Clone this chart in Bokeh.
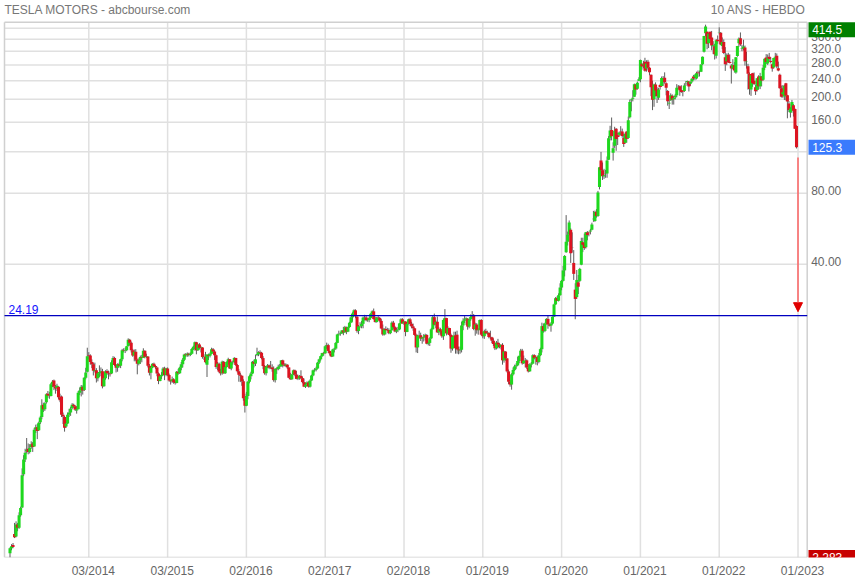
from bokeh.plotting import figure
from bokeh.models import Range1d, FixedTicker, Arrow, NormalHead, ColumnDataSource
from bokeh.core.properties import value
from bokeh.embed import file_html
from bokeh.resources import INLINE

# ---- weekly OHLC (split-adjusted), one bar per week, Mar 2013 -> Dec 2022 ----
opn = [
    2.38, 2.50, 2.58, 2.87, 2.80, 3.15, 3.05, 3.45, 3.72, 5.15,
    5.95, 6.45, 6.60, 6.40, 6.70, 6.95, 6.75, 8.00, 8.15, 7.90,
    8.55, 9.00, 10.15, 9.70, 10.40, 11.30, 11.10, 11.05, 12.40, 12.85,
    12.05, 11.95, 12.10, 10.90, 11.00, 9.20, 9.00, 8.20, 8.45, 9.20,
    9.40, 9.80, 10.15, 10.00, 9.60, 9.70, 11.40, 11.65, 12.05, 11.70,
    13.20, 14.00, 16.50, 16.40, 15.40, 15.05, 14.10, 14.20, 13.15, 13.80,
    13.95, 14.05, 12.15, 13.15, 14.10, 13.80, 13.75, 13.75, 15.35, 16.00,
    14.95, 14.55, 15.05, 14.85, 15.80, 17.25, 17.20, 17.25, 18.00, 19.15,
    18.60, 17.25, 16.40, 17.00, 15.75, 15.15, 15.65, 16.15, 16.05, 17.20,
    16.15, 16.25, 14.85, 13.85, 14.60, 15.15, 14.80, 14.60, 13.75, 12.80,
    13.40, 13.55, 14.45, 13.55, 14.45, 13.55, 12.85, 12.75, 13.00, 12.65,
    12.55, 14.00, 13.80, 14.55, 15.05, 15.75, 16.55, 16.45, 16.70, 16.50,
    16.70, 17.50, 17.85, 18.65, 17.25, 18.25, 17.65, 17.75, 16.15, 16.20,
    15.00, 16.50, 16.35, 16.70, 17.45, 17.05, 16.45, 14.65, 15.15, 14.00,
    13.80, 15.45, 13.80, 14.65, 15.40, 15.80, 14.45, 15.35, 15.40, 16.00,
    14.95, 14.07, 13.60, 13.45, 12.75, 10.80, 10.05, 11.05, 12.70, 13.40,
    13.75, 15.45, 15.15, 16.50, 16.65, 16.95, 16.85, 16.00, 14.80, 13.80,
    14.70, 14.90, 14.55, 14.60, 14.35, 12.90, 14.40, 14.35, 14.70, 14.80,
    15.65, 15.00, 14.85, 15.00, 14.60, 13.20, 13.00, 13.65, 14.20, 13.60,
    13.05, 13.10, 13.45, 13.15, 12.65, 12.10, 12.35, 12.60, 12.10, 12.85,
    13.50, 14.20, 14.25, 14.45, 15.30, 15.80, 16.30, 16.80, 16.75, 17.95,
    18.15, 17.15, 16.75, 16.25, 17.40, 17.55, 18.55, 20.15, 20.25, 20.35,
    20.95, 20.55, 21.60, 20.70, 21.65, 22.60, 23.80, 24.70, 25.50, 23.95,
    20.85, 21.80, 21.85, 22.35, 23.75, 23.80, 23.15, 23.20, 23.65, 24.65,
    25.25, 23.40, 22.75, 23.75, 23.65, 23.00, 21.35, 20.15, 21.25, 21.00,
    21.05, 20.40, 21.00, 22.60, 21.65, 20.75, 21.00, 21.15, 22.45, 23.35,
    22.45, 22.85, 20.65, 22.35, 23.35, 22.35, 21.80, 21.40, 20.05, 17.75,
    19.95, 20.00, 19.35, 19.60, 19.55, 20.05, 18.40, 18.55, 19.40, 21.20,
    23.85, 22.20, 22.80, 20.55, 21.20, 20.85, 19.80, 23.20, 23.65, 20.35,
    21.45, 20.05, 17.55, 19.65, 19.95, 20.10, 17.40, 17.25, 17.35, 22.00,
    23.05, 23.35, 23.50, 21.75, 23.35, 23.90, 24.35, 21.25, 22.20, 21.00,
    21.15, 23.20, 20.10, 19.80, 20.80, 20.35, 20.45, 19.65, 19.60, 18.95,
    18.35, 17.60, 18.60, 18.25, 17.80, 18.20, 15.65, 17.05, 15.95, 14.05,
    12.70, 12.35, 13.65, 14.25, 14.75, 14.90, 15.55, 16.35, 17.20, 15.20,
    15.60, 15.65, 14.60, 14.05, 15.00, 15.15, 16.45, 16.00, 16.15, 15.40,
    16.45, 17.45, 21.85, 20.85, 22.45, 23.45, 22.20, 21.95, 22.40, 23.95,
    27.00, 28.70, 28.00, 29.55, 31.85, 34.00, 37.65, 45.00, 49.85, 53.35,
    56.00, 47.00, 40.50, 31.20, 29.00, 33.50, 34.00, 39.80, 49.50, 49.00,
    47.20, 54.50, 54.50, 55.10, 56.00, 62.00, 61.00, 66.70, 64.00, 85.00,
    110.0, 100.0, 94.50, 96.50, 97.00, 111.0, 137.5, 148.2, 118.7, 127.0,
    150.0, 141.0, 141.5, 147.0, 146.0, 137.0, 131.0, 146.0, 137.0, 168.0,
    198.0, 201.0, 205.0, 231.0, 222.0, 239.8, 243.3, 283.0, 279.0, 289.0,
    270.0, 289.0, 272.0, 254.0, 230.0, 200.0, 231.0, 220.0, 203.0, 230.0,
    228.0, 240.0, 247.0, 234.0, 217.0, 192.0, 198.0, 207.0, 200.0, 204.0,
    208.0, 225.0, 227.0, 219.0, 216.0, 217.0, 233.0, 237.0, 238.0, 233.0,
    238.0, 250.0, 248.0, 245.0, 260.0, 262.0, 262.0, 282.0, 318.0, 381.0,
    387.0, 346.0, 387.0, 366.0, 336.0, 336.0, 306.0, 358.0, 382.0, 383.0,
    337.0, 350.0, 302.0, 290.0, 309.0, 288.0, 278.0, 270.0, 280.0, 260.0,
    305.0, 346.0, 363.0, 327.0, 328.0, 332.0, 288.0, 276.0, 256.0, 220.0,
    258.0, 240.0, 225.0, 219.0, 250.0, 227.0, 250.0, 242.0, 272.0, 301.0,
    284.0, 303.0, 291.0, 282.0, 273.0, 300.0, 306.0, 271.0, 254.0, 223.0,
    210.0, 205.8, 234.0, 208.0, 192.0, 176.0, 180.0, 189.0, 182.0, 154.0,
]
high = [
    2.52, 2.60, 2.63, 3.20, 3.25, 3.20, 3.55, 3.75, 5.45, 6.20,
    6.60, 7.33, 6.95, 6.90, 7.10, 7.05, 8.10, 8.35, 8.40, 8.60,
    9.10, 10.70, 10.35, 10.40, 11.35, 11.60, 11.50, 12.55, 12.90, 12.97,
    12.30, 12.45, 12.15, 11.30, 11.10, 9.40, 9.10, 8.80, 9.40, 9.75,
    9.95, 10.30, 10.25, 10.10, 10.00, 11.60, 12.00, 12.30, 12.25, 13.30,
    14.55, 17.70, 16.95, 16.60, 15.80, 15.30, 15.30, 14.50, 13.95, 14.90,
    14.60, 14.40, 13.40, 14.20, 14.35, 14.15, 14.05, 15.65, 16.30, 16.20,
    15.05, 15.20, 15.30, 15.90, 17.50, 17.60, 17.70, 18.00, 19.40, 19.30,
    18.80, 17.50, 17.40, 17.45, 15.90, 15.95, 16.40, 16.50, 17.60, 17.25,
    16.70, 16.30, 15.10, 14.80, 15.20, 15.30, 14.95, 14.70, 13.90, 13.60,
    13.95, 14.65, 14.70, 14.55, 14.60, 13.75, 12.95, 13.35, 13.15, 12.85,
    14.10, 14.40, 14.70, 15.40, 16.00, 16.70, 16.80, 16.90, 16.85, 16.90,
    17.65, 18.05, 18.80, 18.75, 18.40, 18.50, 17.95, 17.80, 16.60, 17.00,
    16.60, 16.70, 16.90, 17.70, 17.65, 17.30, 16.55, 15.40, 15.30, 14.40,
    15.60, 15.55, 14.80, 15.50, 16.05, 15.85, 15.50, 15.60, 16.15, 16.05,
    15.10, 14.40, 13.85, 13.50, 13.00, 11.30, 11.50, 12.80, 13.55, 14.00,
    15.55, 15.75, 16.50, 17.70, 17.10, 17.25, 17.00, 16.30, 14.95, 14.80,
    15.10, 15.00, 15.55, 15.05, 14.75, 14.50, 14.60, 15.00, 15.10, 15.70,
    15.75, 15.20, 15.20, 15.05, 14.65, 13.85, 13.70, 14.30, 14.30, 14.10,
    13.60, 13.55, 14.20, 13.35, 13.10, 12.60, 12.75, 12.75, 13.00, 13.60,
    14.30, 14.50, 14.70, 15.40, 15.90, 16.40, 16.85, 17.00, 18.10, 18.60,
    18.40, 17.20, 16.90, 17.50, 17.70, 18.70, 20.30, 20.90, 20.60, 21.00,
    21.70, 21.90, 21.75, 21.75, 22.80, 24.00, 25.00, 25.75, 25.75, 24.20,
    22.10, 22.70, 23.00, 24.00, 24.40, 24.35, 23.60, 23.90, 24.80, 25.50,
    25.95, 23.90, 23.90, 24.10, 23.90, 23.40, 22.20, 21.40, 21.80, 21.50,
    21.40, 21.10, 22.90, 23.00, 21.90, 21.50, 21.70, 22.50, 23.60, 23.60,
    23.00, 22.90, 22.50, 23.50, 23.70, 22.80, 22.40, 21.50, 20.30, 20.10,
    20.90, 20.50, 19.70, 20.20, 20.30, 20.20, 18.80, 19.60, 21.50, 24.20,
    24.70, 23.10, 24.00, 21.60, 21.50, 20.90, 23.50, 25.80, 23.70, 21.80,
    21.50, 20.30, 19.90, 20.70, 20.70, 20.90, 17.90, 17.90, 22.80, 23.60,
    24.10, 23.80, 23.60, 23.50, 24.50, 25.30, 24.60, 22.60, 22.50, 21.40,
    23.30, 23.40, 20.70, 21.10, 21.30, 20.90, 20.60, 20.90, 19.70, 19.40,
    18.60, 18.90, 19.30, 18.50, 18.30, 18.50, 17.20, 17.10, 16.00, 14.30,
    12.90, 13.80, 14.60, 15.00, 15.20, 16.20, 16.40, 17.50, 17.50, 16.40,
    16.00, 15.80, 15.10, 15.20, 15.40, 16.60, 16.60, 16.40, 16.30, 16.80,
    17.70, 22.60, 22.40, 22.60, 23.60, 24.20, 22.40, 22.70, 24.00, 27.20,
    29.00, 29.20, 30.10, 33.20, 34.30, 39.40, 43.70, 64.60, 55.00, 61.30,
    56.80, 54.60, 45.90, 33.20, 37.80, 36.00, 38.60, 51.80, 51.80, 53.90,
    54.80, 55.30, 55.00, 56.50, 60.00, 67.30, 67.50, 68.50, 81.80, 103.4,
    119.67, 108.0, 101.5, 100.5, 114.5, 139.7, 154.5, 167.5, 131.5, 153.0,
    151.0, 144.4, 146.0, 153.9, 150.3, 143.0, 145.0, 146.5, 169.0, 199.6,
    201.0, 218.7, 233.3, 232.5, 238.0, 248.0, 294.8, 285.0, 291.5, 300.1,
    293.0, 294.0, 274.0, 255.0, 240.0, 233.0, 236.0, 225.0, 224.0, 233.0,
    250.0, 251.0, 260.3, 236.0, 219.0, 200.0, 212.0, 210.0, 206.0, 211.0,
    232.0, 230.0, 229.0, 229.5, 218.0, 234.0, 239.0, 240.0, 239.0, 238.0,
    246.0, 254.0, 256.0, 262.0, 265.0, 265.0, 282.0, 304.0, 371.7, 414.5,
    388.0, 383.0, 387.5, 390.0, 353.0, 344.0, 360.0, 373.0, 404.0, 386.0,
    366.0, 359.0, 333.0, 313.0, 315.0, 310.0, 282.0, 296.0, 288.0, 302.0,
    337.0, 366.0, 384.3, 340.0, 358.0, 338.0, 318.0, 283.0, 260.0, 255.0,
    259.0, 260.0, 231.0, 246.0, 253.0, 259.0, 251.0, 280.0, 298.0, 311.0,
    310.0, 314.7, 302.0, 284.0, 300.0, 314.9, 313.0, 289.0, 257.0, 229.0,
    229.8, 230.6, 234.9, 209.0, 196.7, 185.0, 198.9, 191.0, 182.9, 155.3,
]
low = [
    2.283, 2.45, 2.50, 2.76, 2.78, 2.95, 3.02, 3.40, 3.70, 5.05,
    5.80, 6.30, 6.25, 6.30, 6.60, 6.40, 6.75, 7.70, 7.25, 7.85,
    8.40, 8.80, 9.45, 9.55, 10.25, 10.85, 10.75, 11.00, 12.05, 11.70,
    11.30, 11.60, 10.70, 10.40, 9.00, 8.40, 7.80, 8.10, 8.40, 9.00,
    9.10, 9.70, 9.85, 9.55, 9.30, 9.70, 11.15, 11.00, 11.20, 11.60,
    13.00, 13.90, 15.80, 15.00, 14.50, 13.50, 13.90, 12.60, 12.75, 13.30,
    13.40, 11.90, 12.10, 12.95, 13.55, 13.00, 13.35, 13.70, 15.00, 14.80,
    13.90, 14.00, 14.60, 14.50, 15.50, 16.90, 16.80, 17.10, 17.90, 18.15,
    16.90, 16.20, 15.50, 15.50, 13.65, 14.90, 15.10, 15.35, 16.00, 15.95,
    16.00, 14.60, 13.50, 13.00, 14.50, 14.70, 14.40, 13.40, 12.40, 12.75,
    13.05, 13.45, 12.90, 13.40, 13.40, 12.70, 12.35, 12.55, 12.45, 12.35,
    12.50, 13.60, 13.70, 14.20, 14.60, 15.55, 16.15, 16.20, 16.25, 16.30,
    16.60, 17.30, 17.20, 16.60, 17.15, 17.40, 16.90, 15.90, 15.70, 15.20,
    13.30, 15.70, 16.10, 16.60, 16.70, 15.70, 14.40, 14.20, 13.80, 13.50,
    13.60, 13.75, 13.70, 14.55, 15.00, 14.40, 14.20, 15.00, 15.20, 14.80,
    13.90, 12.70, 12.65, 12.20, 10.55, 9.40, 10.00, 10.70, 12.50, 13.00,
    13.70, 14.60, 14.80, 16.30, 16.30, 16.45, 15.80, 14.35, 13.60, 13.50,
    14.50, 14.35, 14.40, 14.00, 12.70, 12.60, 13.70, 14.20, 14.40, 14.70,
    14.60, 14.75, 14.70, 14.40, 13.15, 12.95, 12.95, 13.55, 13.40, 13.00,
    12.90, 12.95, 13.00, 12.50, 12.05, 11.95, 12.30, 12.00, 12.00, 12.80,
    13.40, 14.00, 14.05, 14.40, 15.10, 15.60, 16.20, 16.40, 16.70, 17.50,
    16.80, 16.40, 16.15, 16.20, 16.90, 17.35, 18.50, 19.90, 19.90, 20.25,
    20.00, 20.50, 20.20, 20.60, 21.50, 22.50, 22.80, 24.50, 23.60, 20.50,
    20.20, 21.50, 21.40, 21.40, 23.10, 22.90, 22.80, 22.70, 23.30, 24.50,
    23.30, 22.60, 22.60, 23.20, 22.65, 21.20, 19.90, 19.95, 20.15, 20.80,
    20.20, 20.20, 20.90, 21.30, 20.60, 20.40, 20.60, 21.00, 22.30, 22.40,
    22.10, 19.80, 20.60, 22.20, 21.90, 21.40, 20.90, 19.90, 16.90, 16.80,
    19.60, 18.90, 18.40, 18.80, 19.00, 18.30, 18.10, 18.00, 19.30, 21.10,
    22.00, 21.40, 20.50, 20.00, 20.10, 19.50, 19.10, 22.80, 19.95, 20.10,
    19.80, 16.85, 17.20, 19.00, 16.70, 16.70, 16.60, 16.70, 16.90, 21.00,
    22.50, 22.10, 21.10, 21.40, 23.00, 23.50, 21.00, 19.90, 20.30, 20.10,
    21.00, 19.90, 19.40, 19.30, 20.20, 20.10, 19.40, 19.20, 18.50, 18.00,
    17.30, 17.40, 17.60, 17.60, 17.40, 15.00, 15.30, 15.60, 13.90, 12.40,
    12.10, 11.75, 13.50, 14.10, 14.40, 14.80, 15.20, 16.20, 15.00, 15.10,
    14.60, 14.40, 13.90, 14.00, 14.60, 15.10, 15.80, 15.00, 14.90, 15.20,
    16.30, 16.90, 20.50, 20.60, 22.20, 21.30, 21.80, 20.70, 22.20, 23.90,
    26.90, 27.90, 27.80, 29.40, 31.00, 33.80, 35.50, 44.70, 48.00, 53.00,
    40.50, 44.80, 34.30, 23.37, 28.50, 29.90, 33.60, 39.60, 45.00, 46.00,
    46.60, 50.50, 52.50, 53.50, 55.70, 60.50, 60.50, 63.00, 63.50, 83.00,
    95.00, 91.00, 92.00, 93.00, 93.00, 110.5, 134.0, 134.0, 110.0, 124.5,
    121.0, 128.0, 139.0, 140.5, 137.5, 125.7, 130.0, 131.0, 136.0, 166.0,
    178.0, 196.0, 205.0, 209.3, 220.0, 239.0, 236.3, 267.0, 271.0, 262.0,
    262.0, 265.0, 253.0, 206.3, 180.0, 186.0, 206.0, 193.0, 199.0, 220.0,
    226.0, 228.0, 233.0, 208.0, 188.0, 182.0, 197.0, 190.0, 190.0, 200.0,
    204.0, 221.0, 207.0, 213.0, 206.0, 215.0, 228.0, 229.0, 216.0, 228.0,
    235.0, 241.0, 241.0, 243.0, 249.0, 250.0, 261.0, 280.0, 316.0, 370.0,
    326.0, 330.0, 348.0, 323.0, 311.0, 295.0, 298.0, 344.0, 377.0, 340.0,
    326.0, 311.0, 264.0, 279.0, 286.0, 284.0, 233.3, 268.0, 260.0, 257.0,
    303.0, 334.0, 337.0, 320.0, 322.0, 278.0, 270.0, 220.0, 209.3, 206.9,
    226.0, 230.0, 208.7, 216.0, 220.0, 221.0, 227.0, 240.0, 266.0, 282.0,
    280.0, 290.0, 284.0, 262.0, 270.0, 289.0, 271.0, 263.0, 222.0, 203.5,
    203.0, 198.6, 198.0, 166.2, 176.6, 167.5, 175.5, 169.0, 149.9, 123.8,
]
close = [
    2.50, 2.55, 2.53, 2.78, 3.15, 3.05, 3.45, 3.70, 5.10, 5.95,
    6.35, 6.52, 6.40, 6.65, 6.90, 6.72, 7.95, 8.15, 7.85, 8.50,
    8.95, 10.10, 9.70, 10.30, 11.25, 11.10, 11.05, 12.40, 12.70, 12.10,
    11.90, 12.20, 10.90, 10.60, 9.20, 9.05, 8.10, 8.45, 9.20, 9.40,
    9.75, 10.15, 10.00, 9.65, 9.70, 11.40, 11.65, 12.10, 11.65, 13.20,
    13.90, 16.30, 16.40, 15.40, 15.05, 14.15, 14.20, 13.15, 13.80, 13.95,
    14.05, 12.15, 13.15, 14.05, 13.80, 13.75, 13.65, 15.35, 16.00, 14.95,
    14.55, 15.05, 14.85, 15.80, 17.25, 17.20, 17.25, 17.95, 19.15, 18.60,
    17.25, 16.40, 17.00, 15.75, 15.15, 15.65, 16.15, 16.05, 17.20, 16.15,
    16.25, 14.85, 13.85, 14.60, 15.15, 14.80, 14.63, 13.75, 12.80, 13.40,
    13.55, 14.45, 13.55, 14.45, 13.55, 12.85, 12.75, 13.00, 12.65, 12.55,
    14.00, 13.80, 14.55, 15.05, 15.75, 16.55, 16.45, 16.70, 16.50, 16.70,
    17.50, 17.85, 18.65, 17.25, 18.25, 17.65, 17.75, 16.15, 16.20, 15.35,
    16.55, 16.35, 16.70, 17.45, 17.05, 16.45, 14.65, 15.15, 14.00, 13.80,
    15.45, 13.80, 14.65, 15.40, 15.80, 14.45, 15.35, 15.40, 16.00, 14.95,
    14.07, 13.60, 13.45, 12.75, 10.80, 10.05, 11.05, 12.70, 13.40, 13.75,
    15.45, 15.15, 15.80, 16.65, 16.95, 16.85, 16.00, 14.80, 13.80, 14.70,
    14.90, 14.55, 14.60, 14.35, 12.90, 14.40, 14.35, 14.70, 14.80, 15.65,
    15.00, 14.85, 15.00, 14.60, 13.20, 13.00, 13.65, 14.20, 13.60, 13.05,
    13.10, 13.45, 13.15, 12.65, 12.10, 12.35, 12.60, 12.10, 12.85, 13.50,
    14.20, 14.25, 14.45, 15.30, 15.80, 16.30, 16.80, 16.75, 17.95, 18.15,
    17.15, 16.75, 16.25, 17.40, 17.55, 18.55, 20.15, 20.25, 20.35, 20.95,
    20.55, 21.60, 20.70, 21.65, 22.60, 23.80, 24.70, 25.50, 24.05, 20.85,
    21.80, 21.85, 22.35, 23.75, 23.80, 23.15, 23.20, 23.65, 24.65, 25.25,
    23.40, 22.75, 23.75, 23.65, 23.00, 21.35, 20.15, 21.25, 21.00, 21.05,
    20.40, 21.00, 22.60, 21.65, 20.75, 21.00, 21.15, 22.45, 23.35, 22.45,
    22.85, 20.65, 22.35, 23.35, 22.35, 21.80, 21.40, 20.05, 17.75, 19.95,
    20.00, 19.35, 19.60, 19.55, 20.05, 18.40, 18.55, 19.40, 21.20, 23.85,
    22.20, 22.80, 20.55, 21.20, 20.85, 19.80, 23.20, 23.65, 20.35, 21.45,
    20.05, 17.55, 19.65, 19.95, 17.60, 17.40, 17.25, 17.35, 22.00, 23.05,
    23.35, 23.60, 21.75, 23.35, 23.90, 24.35, 21.25, 22.20, 21.00, 21.15,
    23.20, 20.10, 19.80, 20.80, 20.35, 20.45, 19.65, 19.60, 18.95, 18.35,
    17.60, 18.60, 18.25, 17.80, 18.20, 15.65, 17.05, 15.95, 14.05, 12.70,
    12.35, 13.65, 14.25, 14.75, 14.90, 15.55, 16.35, 17.20, 15.20, 15.60,
    15.65, 14.60, 14.05, 15.00, 15.15, 16.45, 16.00, 16.15, 15.40, 16.45,
    17.45, 21.85, 20.85, 22.45, 23.45, 22.20, 21.95, 22.40, 23.95, 27.00,
    28.70, 28.00, 29.55, 31.85, 34.00, 37.65, 43.35, 49.85, 53.35, 60.10,
    44.55, 46.85, 36.40, 28.50, 34.30, 32.10, 38.20, 50.20, 48.35, 46.80,
    54.60, 53.25, 54.40, 55.65, 59.00, 62.35, 66.65, 64.00, 80.55, 102.95,
    100.0, 94.45, 95.35, 96.80, 110.0, 136.65, 147.55, 139.35, 124.0, 147.35,
    135.65, 138.35, 144.65, 146.35, 140.0, 129.35, 143.0, 136.0, 163.0, 195.0,
    199.65, 203.0, 231.65, 220.3, 235.2, 243.3, 293.3, 275.4, 282.0, 264.5,
    284.0, 272.0, 260.4, 225.2, 199.3, 231.0, 218.0, 206.0, 220.0, 225.7,
    246.3, 243.0, 236.5, 224.0, 196.3, 193.3, 208.4, 199.7, 203.0, 207.7,
    223.7, 226.0, 218.7, 214.7, 214.7, 229.0, 233.3, 239.0, 226.7, 237.0,
    244.3, 245.3, 253.0, 258.0, 258.3, 261.7, 281.0, 303.3, 371.3, 407.4,
    344.3, 379.0, 360.3, 338.0, 339.0, 310.7, 355.7, 352.3, 383.0, 342.0,
    349.9, 314.6, 282.0, 307.7, 286.7, 285.3, 270.0, 279.7, 265.0, 301.7,
    336.7, 361.7, 341.7, 328.3, 335.0, 290.0, 288.7, 256.7, 221.0, 253.0,
    234.7, 232.3, 216.7, 245.7, 227.0, 250.7, 240.3, 272.0, 297.0, 288.0,
    300.0, 296.7, 288.1, 270.2, 299.7, 303.4, 275.3, 265.3, 223.1, 205.0,
    214.4, 228.5, 207.5, 196.0, 180.2, 182.9, 194.9, 179.1, 150.2, 125.3,
]

# ---- axes / annotations ----
x_tick_bars = [52, 104, 156, 208, 260, 312, 364, 416, 468, 520]
x_tick_labels = ["03/2014", "03/2015", "02/2016", "02/2017", "02/2018",
                 "01/2019", "01/2020", "01/2021", "01/2022", "01/2023"]
y_ticks = [40, 80, 120, 160, 200, 240, 280, 320, 360, 400]
y_tick_labels = ["40.00", "80.00", "", "160.0", "200.0", "240.0", "280.0", "320.0", "360.0", ""]
ref_level = 24.19
title_text = "TESLA MOTORS - abcbourse.com"
period_text = "10 ANS - HEBDO"

n = len(close)
assert len(opn) == n and len(high) == n and len(low) == n, (len(opn), len(high), len(low), n)

# ---- layout constants (screen geometry of the chart) ----
W, H = 855, 580
BAR0_PX, PX_PER_BAR = 9.5, 1.5154        # horizontal position of bar 0, spacing
FRAME_BOTTOM_PX, PX_PER_DOUBLING = 557, 71.0
GREEN, RED = "#1ed81e", "#dc1421"
FONT = "Liberation Sans"
TXT = "#666666"
GRID = "#e0e0e0"

y_lo = min(low)
def x_at(px):
    return (px - BAR0_PX) / PX_PER_BAR
def y_at(px):
    return y_lo * 2 ** ((FRAME_BOTTOM_PX - px) / PX_PER_DOUBLING)
def y_shift(v, px):            # move a value px pixels upward on the log scale
    return v * 2 ** (px / PX_PER_DOUBLING)

PL, PR, PT = x_at(4), x_at(806.7), y_at(21.7)   # plot box: left, right, top

src = ColumnDataSource(dict(
    x=list(range(n)), h=high, l=low,
    top=[max(o, c) for o, c in zip(opn, close)],
    bot=[min(o, c) for o, c in zip(opn, close)],
    color=[GREEN if c >= o else RED for o, c in zip(opn, close)],
))

p = figure(width=W, height=H, y_axis_type="log", y_axis_location=None,
           x_range=Range1d(x_at(0), x_at(W)), y_range=Range1d(y_lo, y_at(0)),
           toolbar_location=None, output_backend="svg",
           min_border_left=0, min_border_right=0, min_border_top=0,
           min_border_bottom=H - FRAME_BOTTOM_PX)
p.background_fill_color = "white"
p.border_fill_color = "white"
p.outline_line_color = None
p.grid.visible = False

# x axis (real axis, labels slightly right of their grid line)
lab_pos = [b + 3 for b in x_tick_bars]
p.xaxis.ticker = FixedTicker(ticks=lab_pos)
p.xaxis.major_label_overrides = {pos: lab for pos, lab in zip(lab_pos, x_tick_labels)}
p.xaxis.axis_line_color = None
p.xaxis.major_tick_line_color = None
p.xaxis.minor_tick_line_color = None
p.xaxis.major_tick_out = 0
p.xaxis.major_tick_in = 0
p.xaxis.major_label_standoff = 6
p.xaxis.major_label_text_color = TXT
p.xaxis.major_label_text_font = FONT
p.xaxis.major_label_text_font_size = "12px"

# grid lines inside the plot box
p.segment(x0=x_tick_bars, y0=[y_lo] * len(x_tick_bars), x1=x_tick_bars, y1=[PT] * len(x_tick_bars),
          line_color=GRID, line_width=1.5)
p.segment(x0=[PL] * len(y_ticks), y0=y_ticks, x1=[PR] * len(y_ticks), y1=y_ticks,
          line_color=GRID, line_width=1.5)
# plot box
p.segment(x0=[PL, PR, PL, PL], y0=[y_lo, y_lo, PT, y_lo], x1=[PL, PR, PR, PR], y1=[PT, PT, PT, y_lo],
          line_color="#d0d0d0", line_width=1.5)

# price scale labels on the right
p.text(x=[PR] * len(y_ticks), y=[y_shift(t, 2.5) for t in y_ticks], text=y_tick_labels,
       x_offset=4, text_align="left", text_baseline="middle", text_color=TXT,
       text_font=value(FONT), text_font_size=value("12px"))

# candles
p.segment(x0="x", y0="l", x1="x", y1="h", source=src, line_color="#5e5e5e", line_width=1)
p.vbar(x="x", width=2.0, top="top", bottom="bot", source=src, fill_color="color", line_color=None)

# reference level
p.segment(x0=[PL], y0=[ref_level], x1=[PR], y1=[ref_level], line_color="#0000c0", line_width=1.3)
p.text(x=[x_at(8)], y=[y_shift(ref_level, 2)], text=[f"{ref_level:.2f}"], text_align="left",
       text_baseline="bottom", text_color="#1414ff", text_font=value(FONT), text_font_size=value("12px"))

# arrow from the last close down to the reference level
p.add_layout(Arrow(end=NormalHead(size=9, fill_color="#e00000", line_color="#e00000"),
                   x_start=n, y_start=close[-1] * 0.905, x_end=n, y_end=ref_level * 1.04,
                   line_color="#ff4a4a", line_width=1.5, line_alpha=0.85))

# headings
p.text(x=[PL, x_at(805)], y=[y_at(9.5)] * 2, text=[title_text, period_text],
       text_align=["left", "right"], text_baseline="middle", text_color="#777777",
       text_font=value(FONT), text_font_size=value("12px"))

# value boxes on the price scale: max high, last close, min low
box_vals = [min(max(high), y_shift(PT, -7.5)), close[-1], y_lo]
box_txt = [f"{max(high):.1f}", f"{close[-1]:.1f}", f"{min(low):.3f}"]
box_col = ["#008000", "#3a7bfd", "#c80000"]
p.rect(x=[x_at(831.5)] * 3, y=box_vals, width=47, height=15, width_units="screen",
       height_units="screen", fill_color=box_col, line_color=None)
p.text(x=[PR] * 3, y=box_vals, text=box_txt, x_offset=5, text_align="left", text_baseline="middle",
       text_color="white", text_font=value(FONT), text_font_size=value("12px"))

open("out.html", "w").write(file_html(p, INLINE))
